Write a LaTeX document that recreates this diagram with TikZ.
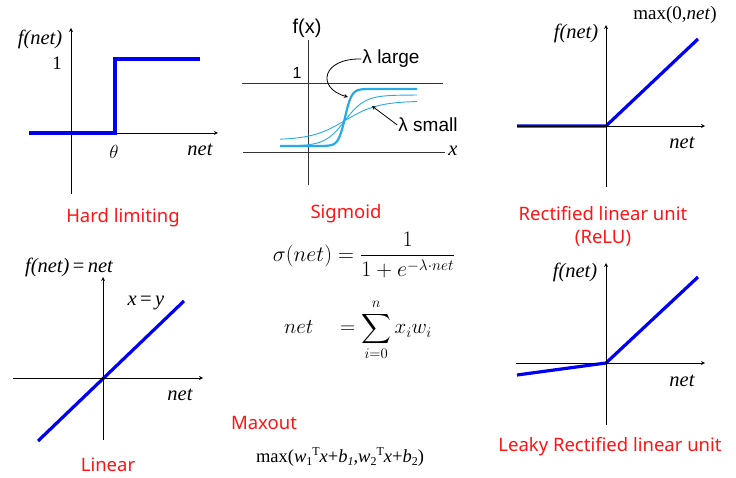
\RequirePackage{fix-cm}
\documentclass[tikz,border=0pt]{standalone}
\usepackage{fontspec}
\usepackage{amsmath}
\newfontfamily\titlefont{Noto Sans}
\newfontfamily\timesfont{Liberation Serif}
\newfontfamily\arialfont{Liberation Sans}
\definecolor{actred}{RGB}{255,20,20}
\definecolor{actblue}{RGB}{0,0,245}
\definecolor{sigblue}{RGB}{40,170,230}
\newcommand\lowsub[1]{\raisebox{-3pt}{\fontsize{12}{12}\selectfont #1}}
\newcommand\highsup[1]{\raisebox{7pt}{\fontsize{12}{12}\selectfont #1}}
\tikzset{
  axis/.style={draw=black, line width=0.8pt},
  fn/.style={draw=actblue, line width=3.2pt},
  title/.style={text=actred, font=\titlefont\fontsize{18.5}{22}\selectfont, inner sep=0pt},
  lbl/.style={font=\timesfont\itshape\fontsize{20.5}{22}\selectfont, inner sep=0pt},
}
\begin{document}
\begin{tikzpicture}[x=1pt, y=-1pt, >=stealth]
    \useasboundingbox (0,0) rectangle (736,478);
    % hard limiting
    \draw [fn] (29,133) -- (115,133) -- (115,59) -- (200,59);
    \draw [axis, ->] (29,133) -- (218,133);
    \draw [axis, ->] (71,194) -- (71,28);
    \node (hlf)   [lbl] at (40,39) {f(net)};
    \node (hlone) [lbl, font=\timesfont\fontsize{19}{20}\selectfont] at (57,63) {1};
    \node (hlth)  [lbl, font=\fontsize{19}{20}\selectfont] at (114,152) {$\theta$};
    \node (hlnet) [lbl] at (200,150) {net};
    \node (hard)  [title] at (123,218) {Hard limiting};
    % sigmoid
    \draw [draw=black!80, line width=0.7pt] (308,185) -- (308,40);
    \draw [draw=black!80, line width=0.7pt] (242,83) -- (443,83);
    \draw [draw=black!80, line width=0.7pt] (243,152) -- (445,152);
    \draw [draw=sigblue, line width=0.9pt] plot[domain=280:417, samples=90]
        (\x, {140 - 39/(1+exp(-max(-9,min(9,0.06*(\x-345)))))});
    \draw [draw=sigblue, line width=0.9pt] plot[domain=280:417, samples=90]
        (\x, {146 - 51/(1+exp(-max(-9,min(9,0.1*(\x-345)))))});
    \draw [draw=sigblue, line width=2.2pt] plot[domain=280:417, samples=120]
        (\x, {146 - 57/(1+exp(-max(-9,min(9,0.3*(\x-345)))))});
    \node (sgf)   [font=\arialfont\fontsize{20}{22}\selectfont, inner sep=0pt] at (307,28) {f(x)};
    \node (sgone) [font=\arialfont\fontsize{16}{18}\selectfont, inner sep=0pt] at (297,73) {1};
    \node (sgx)   [lbl] at (453,151) {x};
    \node (large) [font=\arialfont\fontsize{19}{20}\selectfont, inner sep=1pt] at (391,59) {λ large};
    \node (small) [font=\arialfont\fontsize{19}{20}\selectfont, inner sep=1pt] at (428,125) {λ small};
    \coordinate (lgtip) at (348,97);
    \coordinate (smtip) at (372,106);
    \draw [line width=0.8pt, ->] (large.west) .. controls (322,58) and (316,88) .. (lgtip);
    \draw [line width=0.8pt, ->] (small.west) -- (smtip);
    \node (sigm) [title] at (346,214) {Sigmoid};
    % formulas
    \node (sgeq) [font=\fontsize{22}{26}\selectfont, inner sep=0pt] at (364,255)
        {$\sigma(net) = \dfrac{1}{1+e^{-\lambda\cdot net}}$};
    \node (neteq) [font=\fontsize{21}{24}\selectfont, inner sep=0pt] at (358,330)
        {$\displaystyle net \quad = \sum_{i=0}^{n} x_i w_i$};
    % ReLU
    \draw [fn] (517,126) -- (606,126) -- (698,39);
    \draw [axis, ->] (517,126) -- (705,126);
    \draw [axis, ->] (606,187) -- (606,25);
    \node (rmax) [font=\timesfont\fontsize{19}{20}\selectfont, inner sep=0pt] at (675,15) {max(0,\textit{net})};
    \node (rlf)   [lbl] at (576,33) {f(net)};
    \node (rlnet) [lbl] at (682,143) {net};
    \node (relu)  [title, align=center] at (603,226) {Rectified linear unit\\[1pt](ReLU)};
    % linear
    \draw [fn] (38,441) -- (184,301);
    \draw [axis, ->] (13,378) -- (203,378);
    \draw [axis, ->] (103,440) -- (103,277);
    \node (lnf)   [lbl] at (69,267) {f(net)\,\textup{=}\,net};
    \node (lnxy)  [lbl] at (146,303) {x\,\textup{=}\,y};
    \node (lnnet) [lbl] at (180,395) {net};
    \node (lin)   [title] at (108,465) {Linear};
    % maxout
    \node (maxo) [title] at (264,423) {Maxout};
    \node (maxeq) [font=\timesfont\fontsize{18.5}{20}\selectfont, inner sep=0pt] at (340,457)
        {max(\textit{w}\lowsub{1}\highsup{T}\textit{x}+\textit{b}\lowsub{\textit{1}},\textit{w}\lowsub{2}\highsup{T}\textit{x}+\textit{b}\lowsub{2})};
    % leaky ReLU
    \draw [fn] (517,375) -- (606,363) -- (698,277);
    \draw [axis, ->] (516,363) -- (705,363);
    \draw [axis, ->] (606,425) -- (606,263);
    \node (lkf)   [lbl] at (575,272) {f(net)};
    \node (lknet) [lbl] at (682,381) {net};
    \node (leaky) [title] at (610,447) {Leaky Rectified linear unit};
\end{tikzpicture}
\end{document}
